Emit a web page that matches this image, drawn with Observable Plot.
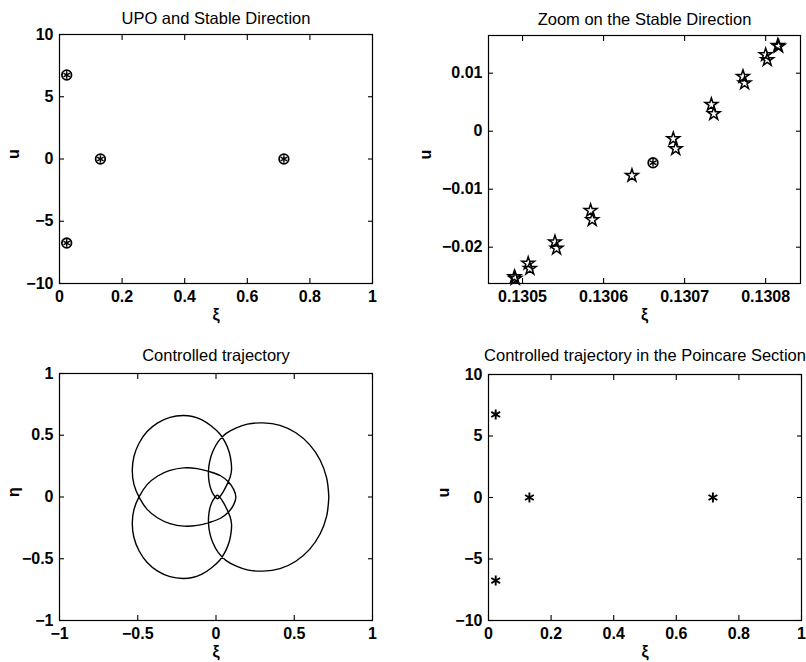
<!DOCTYPE html>
<html><head><meta charset="utf-8">
<script src="https://cdn.jsdelivr.net/npm/d3@7"></script>
<script src="https://cdn.jsdelivr.net/npm/@observablehq/plot@0.6"></script>
<style>
body{margin:0;background:#fff;}
#wrap{position:relative;width:806px;height:662px;overflow:hidden;background:#fff;}
.panel{position:absolute;}
</style></head><body><div id="wrap"></div>
<script>
// ---- data ----
const upoXi = [0.023, 0.023, 0.1307, 0.717];
const upoU  = [6.75, -6.75, 0, 0];

const zoomXiA = [0.130490, 0.130507, 0.130540, 0.130584, 0.130635, 0.130686, 0.130733, 0.130772, 0.130800, 0.130815];
const zoomUA  = [-0.0251, -0.0228, -0.0191, -0.0137, -0.00764, -0.00131, 0.0046, 0.00943, 0.01317, 0.01478];
const zoomXiB = [0.130491, 0.130509, 0.130542, 0.130586, 0.130689, 0.130736, 0.130774, 0.130802, 0.130816];
const zoomUB  = [-0.0254, -0.0237, -0.0202, -0.0153, -0.00303, 0.0030, 0.00828, 0.01231, 0.01462];
const zoomUpoXi = [0.130661];
const zoomUpoU  = [-0.00545];

const trajXi = [0.721,0.707,0.665,0.598,0.51,0.409,0.3,0.2,0.13,0.065,0.015,-0.02,-0.04,-0.048,-0.045,-0.033,-0.015,0.008,0.028,0.045,0.07,0.09,0.099,0.097,0.085,0.06,0.025,-0.03,-0.09,-0.15,-0.21,-0.294,-0.3725,-0.44,-0.491,-0.524,-0.535,-0.524,-0.49,-0.44,-0.3725,-0.294,-0.206,-0.12,-0.04,0.029,0.08,0.113,0.127,
  0.113,0.08,0.029,-0.04,-0.12,-0.206,-0.294,-0.3725,-0.44,-0.49,-0.524,-0.535,-0.524,-0.491,-0.44,-0.3725,-0.294,-0.21,-0.15,-0.09,-0.03,0.025,0.06,0.085,0.097,0.099,0.09,0.07,0.045,0.028,0.008,-0.015,-0.033,-0.045,-0.048,-0.04,-0.02,0.015,0.065,0.13,0.2,0.3,0.409,0.51,0.598,0.665,0.707,0.721];
const trajEta = [0,0.155,0.30,0.424,0.52,0.58,0.6,0.59,0.56,0.515,0.45,0.37,0.29,0.21,0.13,0.065,0.018,-0.014,0.008,0.04,0.1,0.16,0.215,0.28,0.36,0.44,0.51,0.575,0.625,0.652,0.66,0.645,0.6,0.53,0.4375,0.33,0.215,0.10,-0.005,-0.10,-0.17,-0.215,-0.236,-0.23,-0.205,-0.172,-0.122,-0.062,0,
  0.062,0.122,0.172,0.205,0.23,0.236,0.215,0.17,0.10,0.005,-0.10,-0.215,-0.33,-0.4375,-0.53,-0.6,-0.645,-0.66,-0.652,-0.625,-0.575,-0.51,-0.44,-0.36,-0.28,-0.215,-0.16,-0.1,-0.04,-0.008,0.014,-0.018,-0.065,-0.13,-0.21,-0.29,-0.37,-0.45,-0.515,-0.56,-0.59,-0.6,-0.58,-0.52,-0.424,-0.30,-0.155,0];

const sectXi = [0.023, 0.023, 0.1307, 0.717];
const sectU  = [6.75, -6.75, 0, 0];

const ticksUnit = [0, 0.2, 0.4, 0.6, 0.8, 1];
const ticksU10  = [-10, -5, 0, 5, 10];
const ticksZoomX = [0.1305, 0.1306, 0.1307, 0.1308];
const ticksZoomY = [-0.02, -0.01, 0, 0.01];
const ticksSym   = [-1, -0.5, 0, 0.5, 1];

const titles = ["UPO and Stable Direction", "Zoom on the Stable Direction", "Controlled trajectory", "Controlled trajectory in the Poincare Section"];

// ---- helpers ----
const fmt = d => String(d).replace("-", "\u2212");
const FONT = "'Liberation Sans', Arial, Helvetica, sans-serif";

function panel(o) {
  const marks = [
    ...o.marks,
    Plot.frame({stroke: "black", strokeWidth: 1.2}),
    Plot.axisX(o.xTicks, {anchor: "bottom", tickSize: 5, dy: -5, fill: "none", label: null, strokeWidth: 1.1}),
    Plot.axisX(o.xTicks, {anchor: "top", tickSize: 5, dy: 5, fill: "none", label: null, strokeWidth: 1.1}),
    Plot.axisY(o.yTicks, {anchor: "left", tickSize: 5, dx: 5, fill: "none", label: null, strokeWidth: 1.1}),
    Plot.axisY(o.yTicks, {anchor: "right", tickSize: 5, dx: -5, fill: "none", label: null, strokeWidth: 1.1}),
    Plot.axisX(o.xTicks, {anchor: "bottom", tickSize: 0, tickPadding: 7, tickFormat: fmt, label: null, fontSize: 16, fontWeight: "bold", fill: "black"}),
    Plot.axisY(o.yTicks, {anchor: "left", tickSize: 0, tickPadding: 6, tickFormat: fmt, label: null, fontSize: 16, fontWeight: "bold", fill: "black"}),
    Plot.text([o.title], {frameAnchor: "top", dy: o.titleDy, lineAnchor: "middle", fontSize: 16.5, fill: "black"}),
    Plot.text([o.xlabel], {frameAnchor: "bottom", dy: 31, lineAnchor: "middle", fontSize: 16, fontWeight: "bold", fill: "black"}),
    Plot.text([o.ylabel], {frameAnchor: "left", dx: o.ylabelDx, rotate: -90, lineAnchor: "middle", fontSize: 16, fontWeight: "bold", fill: "black"})
  ];
  const svg = Plot.plot({
    width: o.width, height: o.height,
    marginTop: o.mt, marginRight: o.mr, marginBottom: o.mb, marginLeft: o.ml,
    x: {domain: o.xDomain},
    y: {domain: o.yDomain},
    style: {fontFamily: FONT, fontSize: "16px", color: "black", background: "white", overflow: "visible"},
    marks
  });
  const div = document.createElement("div");
  div.className = "panel";
  div.style.left = o.left + "px";
  div.style.top = o.top + "px";
  div.appendChild(svg);
  document.getElementById("wrap").appendChild(div);
}

function upoMarks(xs, ys) {
  return [
    Plot.dot(xs, {x: xs, y: ys, r: 4.8, stroke: "black", strokeWidth: 1.8, fill: "none"}),
    Plot.dot(xs, {x: xs, y: ys, symbol: "asterisk", r: 3.5, stroke: "black", strokeWidth: 1.4})
  ];
}

// Panel 1: UPO and Stable Direction
panel({
  left: 0, top: 0, width: 403, height: 331, mt: 34, mr: 31, mb: 48, ml: 59,
  xDomain: [0, 1], yDomain: [-10, 10], xTicks: ticksUnit, yTicks: ticksU10,
  title: titles[0], titleDy: -16, xlabel: "\u03be", ylabel: "u", ylabelDx: -46,
  marks: upoMarks(upoXi, upoU)
});

// Panel 2: Zoom on the Stable Direction
panel({
  left: 403, top: 0, width: 403, height: 331, mt: 35, mr: 6, mb: 48, ml: 85,
  xDomain: [0.130458, 0.130843], yDomain: [-0.02626, 0.0165], xTicks: ticksZoomX, yTicks: ticksZoomY,
  title: titles[1], titleDy: -16, xlabel: "\u03be", ylabel: "u", ylabelDx: -63,
  marks: [
    Plot.dot(zoomXiA, {x: zoomXiA, y: zoomUA, symbol: "star", r: 4, stroke: "black", strokeWidth: 1.5, fill: "none"}),
    Plot.dot(zoomXiB, {x: zoomXiB, y: zoomUB, symbol: "star", r: 4, stroke: "black", strokeWidth: 1.5, fill: "none"}),
    ...upoMarks(zoomUpoXi, zoomUpoU)
  ]
});

// Panel 3: Controlled trajectory
const traj = trajXi.map((x, i) => ({xi: x, eta: trajEta[i]}));
panel({
  left: 0, top: 331, width: 403, height: 331, mt: 42, mr: 31, mb: 42, ml: 59,
  xDomain: [-1, 1], yDomain: [-1, 1], xTicks: ticksSym, yTicks: ticksSym,
  title: titles[2], titleDy: -18, xlabel: "\u03be", ylabel: "\u03b7", ylabelDx: -46,
  marks: [
    Plot.line(traj, {x: "xi", y: "eta", curve: "catmull-rom", stroke: "black", strokeWidth: 1.4})
  ]
});

// Panel 4: Controlled trajectory in the Poincare Section
panel({
  left: 403, top: 331, width: 403, height: 331, mt: 43, mr: 5, mb: 42, ml: 85,
  xDomain: [0, 1], yDomain: [-10, 10], xTicks: ticksUnit, yTicks: ticksU10,
  title: titles[3], titleDy: -19, xlabel: "\u03be", ylabel: "u", ylabelDx: -45,
  marks: [
    Plot.dot(sectXi, {x: sectXi, y: sectU, symbol: "asterisk", r: 4.8, stroke: "black", strokeWidth: 1.9})
  ]
});
</script></body></html>
